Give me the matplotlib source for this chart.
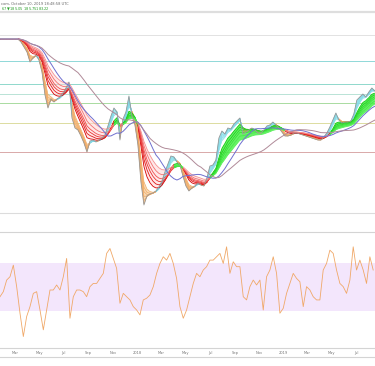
import numpy as np
import pandas as pd
import matplotlib
matplotlib.use("Agg")
import matplotlib.pyplot as plt
import matplotlib.dates as mdates
from matplotlib.collections import LineCollection

# ---------------- data ----------------
start_date = "2017-01-23"
price_step_days = 7.485
price = [181, 181, 181, 181, 181, 181, 181, 178, 173, 168, 158, 162, 165, 160, 148, 125,
         112, 121, 118, 121, 123, 127, 132, 138, 102, 92, 90, 84, 77, 68, 79, 80,
         78, 80, 82, 85, 94, 104, 112, 108, 80, 101, 108, 124, 104, 95, 75, 38,
         15, 24, 26, 27, 29, 33, 39, 48, 56, 64, 63, 58, 55, 44, 34, 29,
         32, 34, 37, 35, 34, 42, 54, 55, 60, 82, 89, 86, 92, 91, 96, 99,
         102, 86, 88, 90, 92, 90, 87, 87, 90, 94, 95, 98, 95, 92, 88, 84,
         84, 85, 87, 87, 86, 85, 84, 83, 82, 81, 80, 80, 83, 87, 93, 100,
         107, 100, 97, 98, 98, 99, 106, 120, 123, 126, 123, 128, 132, 129]

rsi_step_days = 8.317
rsi = [41.9, 46.1, 55.8, 58.6, 68.3, 50.3, 28.1, 8.6, 25.3, 33.6, 44.7, 46.1, 30.8, 14.2, 30.8, 47.5,
       47.5, 51.7, 47.5, 58.6, 73.9, 23.9, 41.9, 47.5, 47.5, 46.1, 41.9, 50.3, 53.0, 53.0, 57.2, 61.4,
       78.1, 82.2, 73.9, 65.6, 36.4, 44.7, 41.9, 39.2, 33.6, 30.8, 26.7, 39.2, 40.6, 43.3, 50.3, 61.4,
       69.7, 75.3, 72.5, 78.1, 69.7, 57.2, 33.6, 23.9, 30.8, 41.9, 53.0, 61.4, 58.6, 64.2, 67.0, 72.5,
       72.5, 75.3, 78.1, 69.7, 83.6, 61.4, 71.1, 67.0, 67.0, 41.9, 39.2, 50.3, 55.8, 51.7, 55.8, 30.8,
       58.6, 64.2, 75.3, 61.4, 28.1, 32.2, 44.7, 53.0, 61.4, 57.2, 54.4, 33.6, 50.3, 47.5, 41.9, 39.2,
       39.2, 64.2, 69.7, 80.8, 78.1, 64.2, 53.0, 50.3, 44.7, 55.8, 83.6, 64.2, 72.5, 64.2, 53.0, 75.3,
       64.2]

levels = [185, 159, 136, 126, 117, 97, 68]
level_colors = ["#e2e2e2", "#8fd8d8", "#8fd8cc", "#b9e3d6", "#a9dba0", "#dcdca0", "#d9a9a9"]

short_spans = [5, 8, 11, 14, 17, 21]
long_spans = [35, 45, 55, 65, 80, 100]
ma_days = [100, 200]
ma_colors = ["#6f6fcf", "#b08a98"]

month_ticks = ["2017-03-01", "2017-05-01", "2017-07-01", "2017-09-01", "2017-11-01", "2018-01-01",
               "2018-03-01", "2018-05-01", "2018-07-01", "2018-09-01", "2018-11-01", "2019-01-01",
               "2019-03-01", "2019-05-01", "2019-07-01"]
month_labels = ["Mar", "May", "Jul", "Sep", "Nov", "2018", "Mar", "May", "Jul", "Sep", "Nov", "2019",
                "Mar", "May", "Jul"]

header_1 = "com, October 10, 2019 18:48:58 UTC"
header_2 = "67 \u25bc185.05 $185.75 $183.22"

# ---------------- derived ----------------
t0 = pd.Timestamp(start_date)
pdates = t0 + pd.to_timedelta(np.arange(len(price)) * price_step_days, unit="D")
rdates = t0 + pd.to_timedelta(np.arange(len(rsi)) * rsi_step_days, unit="D")
s = pd.Series(price, index=pdates, dtype=float)


def ema_days(series, n):
    a_day = 2.0 / (n + 1)
    a = 1 - (1 - a_day) ** price_step_days
    return series.ewm(alpha=a, adjust=False).mean()


short = [ema_days(s, n) for n in short_spans]
long_ = [ema_days(s, n) for n in long_spans]
mas = [s.rolling(int(round(d / price_step_days)), min_periods=1).mean() for d in ma_days]

xnum = mdates.date2num(pdates)
x_left = mdates.date2num(t0)
x_right = mdates.date2num(t0 + pd.Timedelta(days=936))

# ---------------- figure ----------------
W, H = 375, 366
fig = plt.figure(figsize=(W / 100, H / 100), dpi=100)
fig.patch.set_facecolor("white")


def rect(top_px, bot_px):
    return [0, 1 - bot_px / H, 1, (bot_px - top_px) / H]


ax = fig.add_axes(rect(13, 213))
ax.set_xlim(x_left, x_right)
ax.set_ylim(7, 207)
for lv, c in zip(levels, level_colors):
    ax.axhline(lv, color=c, lw=0.7, zorder=1)


def colored_line(axis, y, cond, c_true, c_false, lw, z):
    pts = np.column_stack([xnum, np.asarray(y)])
    segs = np.stack([pts[:-1], pts[1:]], axis=1)
    cols = [c_true if c else c_false for c in cond[:-1]]
    lc = LineCollection(segs, colors=cols, linewidths=lw, zorder=z)
    axis.add_collection(lc)


long_up = (long_[0] > long_[-1]).values
short_up = (short[0] > short[-1]).values

# long ribbon fills
lo = np.minimum.reduce([l.values for l in long_])
hi = np.maximum.reduce([l.values for l in long_])
ax.fill_between(xnum, lo, hi, where=long_up, color="#4cf04c", alpha=0.85, lw=0, zorder=3, interpolate=True)
ax.fill_between(xnum, lo, hi, where=~long_up, color="#ffd6d6", alpha=0.55, lw=0, zorder=3, interpolate=True)

# short ribbon fills
slo = np.minimum.reduce([l.values for l in short])
shi = np.maximum.reduce([l.values for l in short])
ax.fill_between(xnum, slo, shi, where=short_up, color="#a8eef5", alpha=0.7, lw=0, zorder=2, interpolate=True)
ax.fill_between(xnum, slo, shi, where=~short_up, color="#f7c995", alpha=0.7, lw=0, zorder=2, interpolate=True)

reds = ["#d80000", "#e01818", "#e83030", "#ee5050", "#f27070", "#f59090"]
greens = ["#12c812", "#20d020", "#2ed82e", "#3ce03c", "#4ae84a", "#58f058"]
for i, l in enumerate(long_):
    colored_line(ax, l.values, long_up, greens[i], reds[i], 0.6, 4)
for i, l in enumerate(short):
    colored_line(ax, l.values, short_up, "#7fd8e6", "#f0a860", 0.45, 3)

ax.plot(xnum, s.values, color="#9a9a9a", lw=0.6, zorder=5)
for m, c in zip(mas, ma_colors):
    ax.plot(xnum, m.values, color=c, lw=0.7, zorder=6)

ax.set_xticks([])
ax.set_yticks([])
for sp in ["top", "left", "right"]:
    ax.spines[sp].set_visible(False)
ax.spines["bottom"].set_color("#dcdcdc")
ax.spines["bottom"].set_linewidth(0.8)

# RSI panel
ax2 = fig.add_axes(rect(232, 348))
ax2.set_xlim(x_left, x_right)
ax2.set_ylim(-1, 96)
ax2.axhspan(30, 70, color="#f3e6fc", lw=0, zorder=1)
ax2.plot(mdates.date2num(rdates), rsi, color="#f0a868", lw=0.6, zorder=3)
ax2.set_yticks([])
ax2.set_xticks([mdates.date2num(pd.Timestamp(d)) for d in month_ticks])
ax2.set_xticklabels(month_labels, fontsize=2.6, color="#777777")
ax2.tick_params(axis="x", length=0, pad=2.2)
for sp in ["left", "right"]:
    ax2.spines[sp].set_visible(False)
ax2.spines["top"].set_color("#d4d4d4")
ax2.spines["top"].set_linewidth(0.8)
ax2.spines["bottom"].set_color("#d4d4d4")
ax2.spines["bottom"].set_linewidth(0.8)

# decorations in figure pixel coords
fig.add_artist(plt.Line2D([0, 1], [1 - 12 / H, 1 - 12 / H], color="#dedede", lw=1.6))
fig.add_artist(plt.Line2D([0, 1], [1 - 356.5 / H, 1 - 356.5 / H], color="#d4d4d4", lw=0.8))
fig.text(1 / W, 1 - 4 / H, header_1, fontsize=2.6, color="#666666", va="center", ha="left")
fig.text(1 / W, 1 - 8 / H, header_2, fontsize=2.6, color="#2aa02a", va="center", ha="left")

fig.savefig("out.png", dpi=100, facecolor="white")
